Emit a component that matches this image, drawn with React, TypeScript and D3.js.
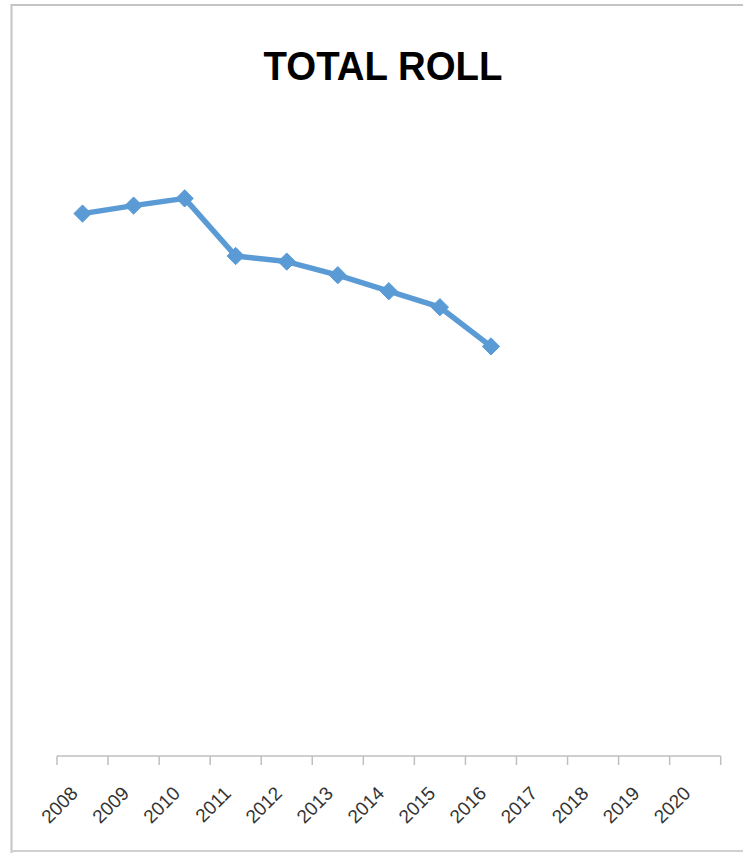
import React from "react";
import * as d3 from "d3";

const years = ["2008","2009","2010","2011","2012","2013","2014","2015","2016","2017","2018","2019","2020"];
const rollYears = ["2008","2009","2010","2011","2012","2013","2014","2015","2016"];
const rollValues = [678, 688, 697, 625, 618, 601, 581, 561, 512];
const title = "TOTAL ROLL";

const W = 743, H = 853;

export default function App() {
  const x = d3.scaleBand<string>().domain(years).range([57, 720.7]).padding(0);
  const y = d3.scaleLinear().domain([0, 800]).range([756, 116]);
  const cx = (d: string) => (x(d) as number) + x.bandwidth() / 2;
  const data = rollYears.map((yr, i) => ({ yr, v: rollValues[i] }));
  const line = d3.line<{ yr: string; v: number }>().x(d => cx(d.yr)).y(d => y(d.v));
  const diamond = d3.symbol().type(d3.symbolDiamond2).size(190)() as string;
  const tickXs = years.map(d => x(d) as number).concat([x.range()[1]]);

  return (
    <svg width={W} height={H} style={{ position: "absolute", left: 0, top: 0, background: "#fff" }}>
      {/* chart border */}
      <path d={`M11.5,${H + 10} L11.5,5 L${W + 10},5`} fill="none" stroke="#c4c4c4" strokeWidth={2} />
      <line x1={11} x2={W + 10} y1={851} y2={851} stroke="#d0d0d0" strokeWidth={2} />
      <text x={383} y={80} textAnchor="middle" fontFamily="Liberation Sans, Arial, sans-serif" fontWeight="bold"
        fontSize={40} textLength={239} lengthAdjust="spacingAndGlyphs" fill="#000">{title}</text>
      {/* x axis */}
      <line x1={x.range()[0]} x2={x.range()[1]} y1={756} y2={756} stroke="#bfbfbf" strokeWidth={1.5} />
      {tickXs.map((tx, i) => (
        <line key={i} x1={tx} x2={tx} y1={756} y2={765} stroke="#bfbfbf" strokeWidth={1.5} />
      ))}
      {years.map(yr => (
        <text key={yr} transform={`translate(${cx(yr) - 7},${791}) rotate(-45)`} textAnchor="end"
          dominantBaseline="middle" fontFamily="Liberation Sans, Arial, sans-serif" fontSize={19} fill="#333">{yr}</text>
      ))}
      <path d={line(data) as string} fill="none" stroke="#5B9BD5" strokeWidth={5.5} strokeLinejoin="round" />
      {data.map(d => (
        <path key={d.yr} d={diamond} transform={`translate(${cx(d.yr)},${y(d.v)})`} fill="#5B9BD5" stroke="#5B9BD5" strokeWidth={1} />
      ))}
    </svg>
  );
}
